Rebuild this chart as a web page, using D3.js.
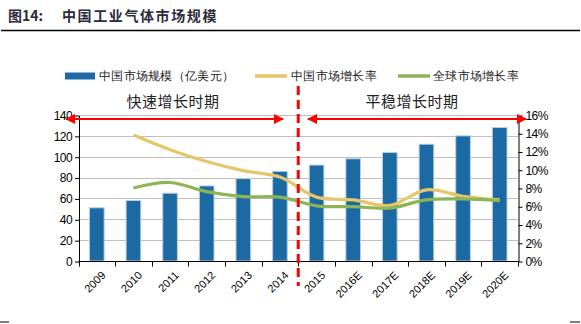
<!DOCTYPE html>
<html lang="zh">
<head>
<meta charset="utf-8">
<title>中国工业气体市场规模</title>
<script src="https://cdn.jsdelivr.net/npm/d3@7"></script>
<style>
  body { margin: 0; background: #fff; }
  text { font-family: "Liberation Sans", Arial, sans-serif; }
  .cjk { font-family: "Noto Sans CJK SC", sans-serif; }
</style>
</head>
<body>
<script>
// data
var years = ["2009", "2010", "2011", "2012", "2013", "2014", "2015", "2016E", "2017E", "2018E", "2019E", "2020E"];
var marketSize = [51, 58, 65, 72, 79, 86, 92, 98, 104, 112, 120, 128];
var chinaGrowth = [null, 13.8, 12.2, 10.9, 9.9, 9.2, 7.0, 6.7, 6.1, 7.8, 7.1, 6.7];
var globalGrowth = [null, 8.0, 8.6, 7.6, 7.05, 7.0, 6.05, 5.95, 5.8, 6.7, 6.8, 6.6];
var leftTicks = [0, 20, 40, 60, 80, 100, 120, 140];
var rightTicks = [0, 2, 4, 6, 8, 10, 12, 14, 16];

var W = 581, H = 324;
// plot box ("top" is taken by window.top, so prefix these)
var pLeft = 78.5, pRight = 518, pTop = 115, pBottom = 261;

var svg = d3.select("body").append("svg")
    .attr("width", W)
    .attr("height", H);

// title + rules
svg.append("text")
    .attr("class", "cjk")
    .attr("x", 8).attr("y", 21)
    .attr("font-size", "14px")
    .attr("font-weight", "bold")
    .attr("fill", "#2b2b3a")
    .text("图14:");
svg.append("text")
    .attr("class", "cjk")
    .attr("x", 62).attr("y", 21)
    .attr("font-size", "14px")
    .attr("font-weight", "bold")
    .attr("letter-spacing", "1.6px")
    .attr("fill", "#2b2b3a")
    .text("中国工业气体市场规模");
svg.append("line").attr("x1", 1).attr("x2", 580).attr("y1", 30.5).attr("y2", 30.5)
    .attr("stroke", "#000").attr("stroke-width", 1.5);
svg.append("line").attr("x1", 0).attr("x2", 9).attr("y1", 322).attr("y2", 322)
    .attr("stroke", "#000").attr("stroke-width", 1);
svg.append("line").attr("x1", 570).attr("x2", 580).attr("y1", 322).attr("y2", 322)
    .attr("stroke", "#000").attr("stroke-width", 1);

var x = d3.scaleBand().domain(years).range([pLeft, pRight]).paddingInner(0.6).paddingOuter(0.3);
var xc = function(d) { return x(d) + x.bandwidth() / 2; };
var y = d3.scaleLinear().domain([0, 140]).range([pBottom, pTop]);
var y2 = d3.scaleLinear().domain([0, 16]).range([pBottom, pTop]);

// grid
svg.append("g").selectAll("line")
    .data(leftTicks.slice(1))
    .enter().append("line")
    .attr("x1", pLeft).attr("x2", pRight)
    .attr("y1", function(d) { return Math.round(y(d)) + 0.5; })
    .attr("y2", function(d) { return Math.round(y(d)) + 0.5; })
    .attr("stroke", "#bfbfbf").attr("stroke-width", 1);

// bars
svg.append("g").selectAll("rect")
    .data(marketSize)
    .enter().append("rect")
    .attr("x", function(d, i) { return x(years[i]); })
    .attr("y", function(d) { return y(d); })
    .attr("width", x.bandwidth())
    .attr("height", function(d) { return pBottom - y(d); })
    .attr("fill", "#1c6aa4")
    .attr("stroke", "#b9cde0")
    .attr("stroke-width", 1);

// lines
var line = d3.line()
    .defined(function(d) { return d != null; })
    .x(function(d, i) { return xc(years[i]); })
    .y(function(d) { return y2(d); })
    .curve(d3.curveCatmullRom.alpha(0.5));

svg.append("path").datum(chinaGrowth)
    .attr("d", line).attr("fill", "none")
    .attr("stroke", "#e6c66a").attr("stroke-width", 3.2);
svg.append("path").datum(globalGrowth)
    .attr("d", line).attr("fill", "none")
    .attr("stroke", "#8db455").attr("stroke-width", 3.2);

// axes
var xAxis = svg.append("g").attr("transform", "translate(0," + (pBottom + 0.5) + ")");
xAxis.append("line").attr("x1", pLeft).attr("x2", pRight).attr("stroke", "#000");
var step = x.step();
xAxis.selectAll(".tk")
    .data(d3.range(years.length + 1))
    .enter().append("line")
    .attr("x1", function(i) { return Math.round(pLeft + i * step) + 0.5; })
    .attr("x2", function(i) { return Math.round(pLeft + i * step) + 0.5; })
    .attr("y1", 0).attr("y2", 5)
    .attr("stroke", "#000");
xAxis.selectAll("text")
    .data(years)
    .enter().append("text")
    .attr("transform", function(d) { return "translate(" + (xc(d) + 4) + ",9) rotate(-45)"; })
    .attr("text-anchor", "end")
    .attr("dy", "0.7em")
    .attr("font-size", "11px")
    .attr("fill", "#000")
    .text(function(d) { return d; });

var yAxisL = d3.axisLeft(y).tickValues(leftTicks).tickSize(4).tickSizeOuter(0);
var gl = svg.append("g").attr("transform", "translate(" + (pLeft + 0.5) + ",0.5)").call(yAxisL);
gl.select(".domain").attr("stroke", "#000");
gl.selectAll("text").attr("font-size", "12px").attr("letter-spacing", "-0.6px")
    .attr("font-family", "Liberation Sans, Arial").attr("fill", "#000");

var yAxisR = d3.axisRight(y2).tickValues(rightTicks).tickSize(4).tickSizeOuter(0)
    .tickFormat(function(d) { return d + "%"; });
var gr = svg.append("g").attr("transform", "translate(" + (pRight + 0.5) + ",0.5)").call(yAxisR);
gr.select(".domain").attr("stroke", "#000");
gr.selectAll("text").attr("font-size", "12px").attr("letter-spacing", "-0.6px")
    .attr("font-family", "Liberation Sans, Arial").attr("fill", "#000");

// period divider and arrows
var divX = pLeft + 6 * step;
svg.append("line")
    .attr("x1", divX).attr("x2", divX).attr("y1", 86).attr("y2", 286)
    .attr("stroke", "#ff0000").attr("stroke-width", 3)
    .attr("stroke-dasharray", "9,5");

var defs = svg.append("defs");
defs.append("marker").attr("id", "ah")
    .attr("viewBox", "0 0 10 10").attr("refX", 9).attr("refY", 5)
    .attr("markerWidth", 6).attr("markerHeight", 5).attr("orient", "auto-start-reverse")
    .attr("markerUnits", "strokeWidth")
    .append("path").attr("d", "M0,0L10,5L0,10z").attr("fill", "#ff0000");

[[66, 283], [308, 526]].forEach(function(a) {
    svg.append("line")
        .attr("x1", a[0]).attr("x2", a[1]).attr("y1", 119).attr("y2", 119)
        .attr("stroke", "#ff0000").attr("stroke-width", 2)
        .attr("marker-start", "url(#ah)").attr("marker-end", "url(#ah)");
});

svg.append("text").attr("class", "cjk")
    .attr("x", 173).attr("y", 107).attr("text-anchor", "middle")
    .attr("font-size", "15px").attr("fill", "#222").attr("letter-spacing", "0.5px")
    .text("快速增长时期");
svg.append("text").attr("class", "cjk")
    .attr("x", 412).attr("y", 107).attr("text-anchor", "middle")
    .attr("font-size", "15px").attr("fill", "#222").attr("letter-spacing", "0.5px")
    .text("平稳增长时期");

// legend
var lg = svg.append("g").attr("class", "cjk");
lg.append("rect").attr("x", 65).attr("y", 72.5).attr("width", 30).attr("height", 7).attr("fill", "#1c6aa4");
lg.append("text").attr("x", 99).attr("y", 80).attr("font-size", "12px").attr("fill", "#222")
    .attr("letter-spacing", "0.3px").text("中国市场规模（亿美元）");
lg.append("line").attr("x1", 255).attr("x2", 287).attr("y1", 76).attr("y2", 76)
    .attr("stroke", "#e6c66a").attr("stroke-width", 3.5);
lg.append("text").attr("x", 291).attr("y", 80).attr("font-size", "12px").attr("fill", "#222")
    .attr("letter-spacing", "0.3px").text("中国市场增长率");
lg.append("line").attr("x1", 398).attr("x2", 430).attr("y1", 76).attr("y2", 76)
    .attr("stroke", "#8db455").attr("stroke-width", 3.5);
lg.append("text").attr("x", 433).attr("y", 80).attr("font-size", "12px").attr("fill", "#222")
    .attr("letter-spacing", "0.3px").text("全球市场增长率");
</script>
</body>
</html>
